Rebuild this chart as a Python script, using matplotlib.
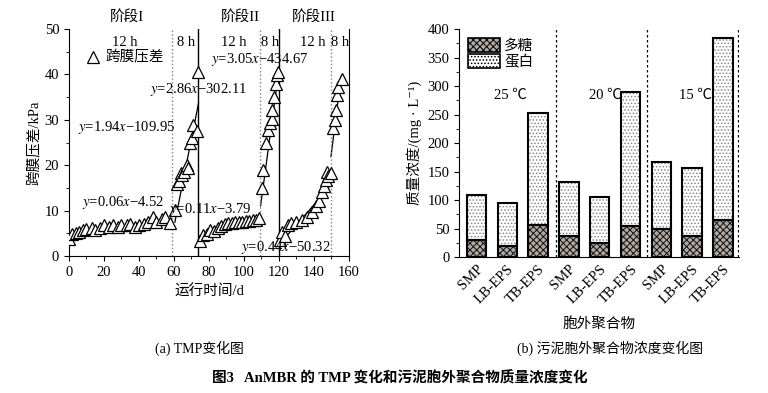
import matplotlib.pyplot as plt
import numpy as np
from matplotlib.ticker import MultipleLocator
from matplotlib.patches import Patch

plt.rcParams['font.family'] = ['Liberation Serif', 'Noto Sans CJK SC', 'DejaVu Serif']
plt.rcParams['mathtext.fontset'] = 'stix'
plt.rcParams['axes.unicode_minus'] = True
plt.rcParams['hatch.linewidth'] = 0.7

# ---- (a) TMP data ----
day = [0, 2, 4, 6, 8, 10, 13, 15, 18, 20, 23, 25, 28, 30, 33, 35, 38, 40, 43, 45,
       48, 50, 53, 55, 58, 60.6, 61.5, 62.9, 63.8, 64.8, 65.6, 67.2, 68.2, 69.1,
       70.5, 71, 72.9, 73.9,
       74.6, 76.5, 78.7, 80.7, 83, 85, 87, 89, 91, 93, 95, 97, 99, 101, 103, 105,
       107, 108.5, 110.1, 111, 112.4, 113.9, 115, 115.8, 116.2, 117.1, 118.3, 119, 119.4,
       120.6, 122, 123.5, 125.3, 127, 130, 133, 136, 139, 141, 143, 144.4, 146, 147,
       147.5, 148, 150, 151, 152, 152.6, 153, 154, 155.8]
tmp = [3.7, 4.8, 5.0, 5.2, 5.8, 6.0, 6.2, 5.7, 6.2, 6.8, 6.5, 6.8, 6.4, 6.9, 6.8, 7.0,
       6.3, 6.9, 7.0, 7.5, 8.5, 7.4, 8.2, 8.6, 7.2, 10.1, 15.8, 16.5, 18.2, 17.8, 18.5,
       20.0, 19.3, 24.9, 26.0, 28.9, 27.5, 40.6,
       3.2, 4.6, 4.9, 5.8, 5.5, 6.2, 6.6, 7.0, 7.2, 7.3, 7.4, 7.5, 7.6, 7.7, 7.8, 7.9,
       8.0, 8.3, 14.9, 18.9, 24.8, 27.8, 29.2, 30.1, 32.2, 35.1, 38.0, 39.9, 40.5,
       3.5, 5.3, 4.5, 6.8, 7.2, 7.5, 8.0, 8.7, 9.8, 11.1, 12.2, 14.0, 15.4, 16.8,
       18.6, 17.6, 18.3, 28.1, 30.0, 32.2, 35.5, 37.3, 39.1]

# fitted lines: slope, intercept, start day, end day, label
fit_k = [0.06, 1.94, 0.11, 2.86, 0.44, 3.05]
fit_b = [4.52, -109.95, -3.79, -302.11, -50.32, -434.67]
fit_x0 = [0, 60.5, 74.5, 109.5, 120.5, 149.7]
fit_x1 = [58.5, 74, 108.5, 120, 148.5, 155.5]
fit_txt = [r'$y$=0.06$x$−4.52', r'$y$=1.94$x$−109.95', r'$y$=0.11$x$−3.79',
           r'$y$=2.86$x$−302.11', r'$y$=0.44$x$−50.32', r'$y$=3.05$x$−434.67']
txt_x = [31, 33, 81, 74, 124, 109]
txt_y = [11.7, 28.4, 10.3, 36.6, 1.8, 43.4]

# ---- (b) EPS data ----
eps_labels = ['SMP', 'LB-EPS', 'TB-EPS'] * 3
temps = ['25 ℃', '20 ℃', '15 ℃']
polysac = [29, 20, 56, 37, 24, 55, 49, 37, 65]
total = [108, 95, 252, 131, 105, 290, 167, 157, 385]
protein = [t - p for t, p in zip(total, polysac)]

fig = plt.figure(figsize=(7.68, 3.93), dpi=100)

# ---------- panel a ----------
ax = fig.add_axes([0.0898, 0.3486, 0.3646, 0.5774])
ax.plot(day, tmp, ls='none', marker='^', ms=8, mfc='white', mec='black', mew=0.9,
        label='跨膜压差', zorder=3)
for k, b, x0, x1 in zip(fit_k, fit_b, fit_x0, fit_x1):
    xs = np.array([x0, x1])
    ax.plot(xs, k * xs + b, color='black', lw=0.9, zorder=2)
for s, tx, ty in zip(fit_txt, txt_x, txt_y):
    ax.text(tx, ty, s, fontsize=10.5, ha='center', va='center', zorder=4)

for xv in [59, 109, 149.7]:
    ax.axvline(xv, color='gray', ls=':', lw=1)
for xv in [74, 120.2]:
    ax.axvline(xv, color='black', lw=1)

for s, tx in zip(['12 h', '8 h', '12 h', '8 h', '12 h', '8 h'],
                 [32, 67, 94, 115, 139.5, 155]):
    ax.text(tx, 47.1, s, fontsize=10.5, ha='center', va='center')
for s, tx in zip(['阶段I', '阶段II', '阶段III'], [33, 98, 140]):
    ax.text(tx, 52.7, s, fontsize=10.5, ha='center', va='center', clip_on=False)

ax.legend(loc='upper left', bbox_to_anchor=(0.04, 0.93), frameon=False, fontsize=10.5,
          handletextpad=0.3, handlelength=1.0, borderaxespad=0)
ax.set_xlim(0, 160)
ax.set_ylim(0, 50)
ax.xaxis.set_major_locator(MultipleLocator(20))
ax.xaxis.set_minor_locator(MultipleLocator(10))
ax.yaxis.set_major_locator(MultipleLocator(10))
ax.yaxis.set_minor_locator(MultipleLocator(5))
ax.spines['top'].set_visible(False)
ax.tick_params(labelsize=10.5)
ax.tick_params(which='minor', length=2.5)
ax.set_xlabel('运行时间/d', fontsize=10.5)
ax.set_ylabel('跨膜压差/kPa', fontsize=10.5, labelpad=2)

# ---------- panel b ----------
bx = fig.add_axes([0.5977, 0.346, 0.3645, 0.58])
pos = np.arange(1, len(eps_labels) + 1)
w = 0.63
dark = '#b0a8a2'
bx.bar(pos, polysac, w, color=dark, hatch='xxxxx', edgecolor='#111111', lw=0)
bx.bar(pos, protein, w, bottom=polysac, color='white', hatch='.....',
       edgecolor='#888888', lw=0)
bx.bar(pos, polysac, w, fill=False, edgecolor='black', lw=1.5)
bx.bar(pos, protein, w, bottom=polysac, fill=False, edgecolor='black', lw=1.5)

h1 = Patch(facecolor=dark, hatch='xxxxx', edgecolor='#111111', lw=1.2)
h2 = Patch(facecolor='white', hatch='.....', edgecolor='#666666', lw=1.2)
leg = bx.legend([h1, h2], ['多糖', '蛋白'], loc='upper left', frameon=False,
                fontsize=10.5, handlelength=2.2, handleheight=1.1,
                handletextpad=0.3, labelspacing=0.1, borderaxespad=0.2)
for p in leg.get_patches():
    p.set_edgecolor('black')

for xv in [3.57, 6.52, 9.5]:
    bx.axvline(xv, color='black', ls=(0, (2, 2)), lw=0.9)
for s, tx in zip(temps, [2.1, 5.17, 8.1]):
    bx.text(tx, 284, s, fontsize=10.5, ha='center', va='center')

bx.set_xlim(0.43, 9.52)
bx.set_ylim(0, 400)
bx.set_xticks(pos)
bx.set_xticklabels(eps_labels, rotation=45, ha='right', rotation_mode='anchor',
                   fontsize=10.5)
bx.yaxis.set_major_locator(MultipleLocator(50))
bx.yaxis.set_minor_locator(MultipleLocator(25))
bx.tick_params(labelsize=10.5)
bx.tick_params(axis='x', length=0, pad=4)
bx.tick_params(which='minor', length=2.5)
bx.spines['top'].set_visible(False)
bx.spines['right'].set_visible(False)
bx.set_ylabel('质量浓度/(mg · L⁻¹)', fontsize=10.5, labelpad=4)
bx.set_xlabel('胞外聚合物', fontsize=10.5, labelpad=8)

fig.text(0.26, 0.115, '(a) TMP变化图', fontsize=10, ha='center', va='center')
fig.text(0.795, 0.115, '(b) 污泥胞外聚合物浓度变化图', fontsize=10, ha='center', va='center')
fig.text(0.52, 0.038, '图3   AnMBR 的 TMP 变化和污泥胞外聚合物质量浓度变化', fontsize=10.5,
         fontweight='bold', ha='center', va='center')

fig.savefig('out.png', dpi=100)
